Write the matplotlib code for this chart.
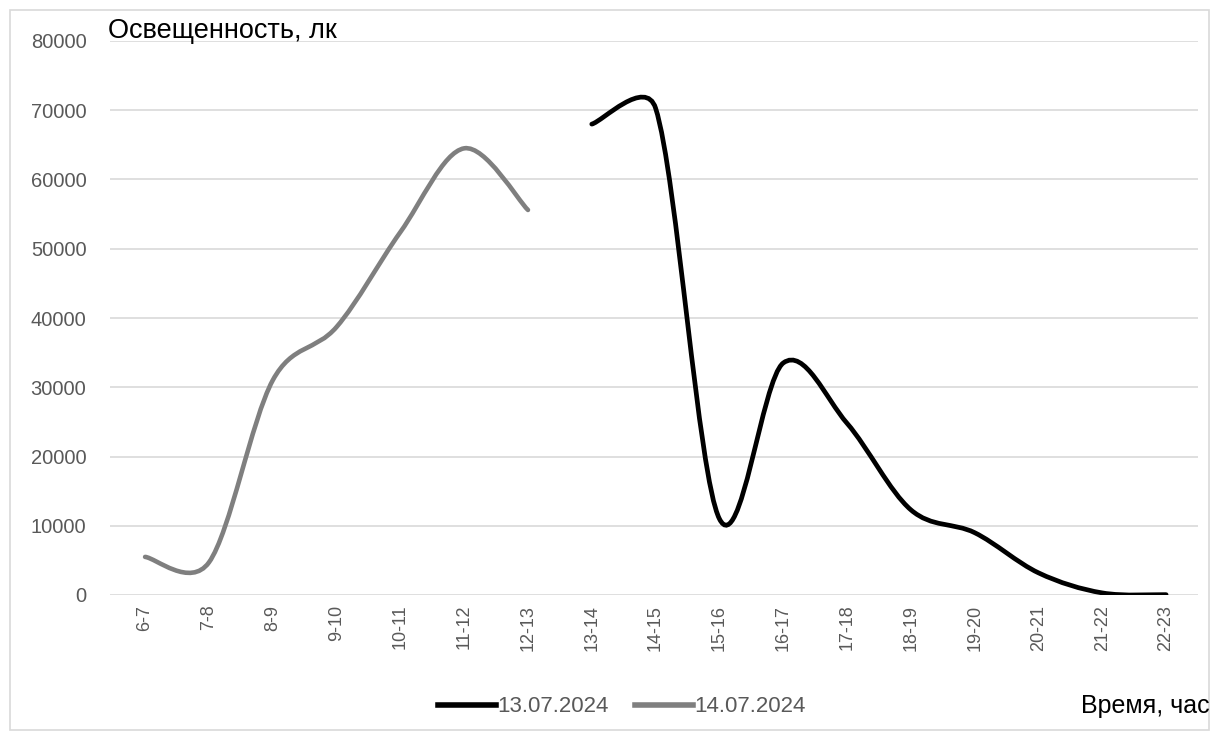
import numpy as np
import matplotlib.pyplot as plt
from matplotlib.path import Path
from matplotlib.patches import PathPatch, Rectangle
from matplotlib.lines import Line2D

plt.rcParams['font.family'] = ['Liberation Sans', 'DejaVu Sans']

# hour intervals on the x axis
hours = ['6-7', '7-8', '8-9', '9-10', '10-11', '11-12', '12-13', '13-14',
         '14-15', '15-16', '16-17', '17-18', '18-19', '19-20', '20-21',
         '21-22', '22-23']

# 14.07.2024 -> morning part (6-7 .. 12-13)
day14_idx = [0, 1, 2, 3, 4, 5, 6]
day14_lux = [5500, 4700, 31000, 38700, 52400, 64500, 55600]

# 13.07.2024 -> afternoon part (13-14 .. 22-23)
day13_idx = [7, 8, 9, 10, 11, 12, 13, 14, 15, 16]
day13_lux = [68000, 70300, 11000, 33500, 24800, 12300, 9000, 3200, 300, 50]


def smooth_path(ax, xs, ys):
    # excel style smoothing, done in screen pixels, control arms clipped
    # to half of the segment length
    tr = ax.transData
    pts = tr.transform(np.column_stack([xs, ys]).astype(float))
    n = len(pts)
    tang = []
    for i in range(n):
        a = pts[max(i - 1, 0)]
        b = pts[min(i + 1, n - 1)]
        tang.append(b - a)
    verts = [pts[0]]
    codes = [Path.MOVETO]
    for i in range(n - 1):
        seg = np.hypot(*(pts[i + 1] - pts[i]))
        t1, t2 = tang[i], tang[i + 1]
        f1 = min(1 / 6, seg / (2 * max(np.hypot(*t1), 1e-9)))
        f2 = min(1 / 6, seg / (2 * max(np.hypot(*t2), 1e-9)))
        verts += [pts[i] + f1 * t1, pts[i + 1] - f2 * t2, pts[i + 1]]
        codes += [Path.CURVE4] * 3
    verts = tr.inverted().transform(np.array(verts))
    return Path(verts, codes)


fig = plt.figure(figsize=(12.19, 7.4), dpi=100)
ax = fig.add_axes([110 / 1219, 1 - 595 / 740, 1088 / 1219, 554 / 740])
ax.set_xlim(-0.55, 16.5)
ax.set_ylim(0, 80000)

ax.add_patch(PathPatch(smooth_path(ax, day14_idx, day14_lux), fill=False,
                       edgecolor='#7f7f7f', lw=3.3, capstyle='round', zorder=3))
ax.add_patch(PathPatch(smooth_path(ax, day13_idx, day13_lux), fill=False,
                       edgecolor='black', lw=3.4, capstyle='round', zorder=3))

ax.set_yticks(range(0, 80001, 10000))
ax.set_xticks(range(len(hours)))
ax.set_xticklabels(hours, rotation=90)
ax.tick_params(length=0, labelcolor='#595959')
ax.tick_params(axis='y', pad=17, labelsize=14.5)
ax.tick_params(axis='x', pad=7, labelsize=13)
ax.grid(axis='y', color='#d9d9d9', lw=1.2)
ax.set_axisbelow(True)
for s in ax.spines.values():
    s.set_visible(False)

fig.text(108 / 1219, 1 - 31 / 740, 'Освещенность, лк', fontsize=19.5,
         color='black', va='center', ha='left')
fig.text(1210 / 1219, 1 - 706 / 740, 'Время, час', fontsize=18,
         color='black', va='center', ha='right')

handles = [Line2D([], [], color='black', lw=4),
           Line2D([], [], color='#7f7f7f', lw=4)]
fig.legend(handles, ['13.07.2024', '14.07.2024'], loc='center',
           bbox_to_anchor=(622 / 1219, 1 - 707 / 740), ncol=2, frameon=False,
           fontsize=16, labelcolor='#595959', handlelength=2.6,
           handletextpad=0.05, columnspacing=1.2)

fig.patches.append(Rectangle((10 / 1219, 10 / 740), 1199 / 1219, 720 / 740,
                             transform=fig.transFigure, fill=False,
                             edgecolor='#d9d9d9', lw=1.2))

fig.savefig('out.png', dpi=100)
